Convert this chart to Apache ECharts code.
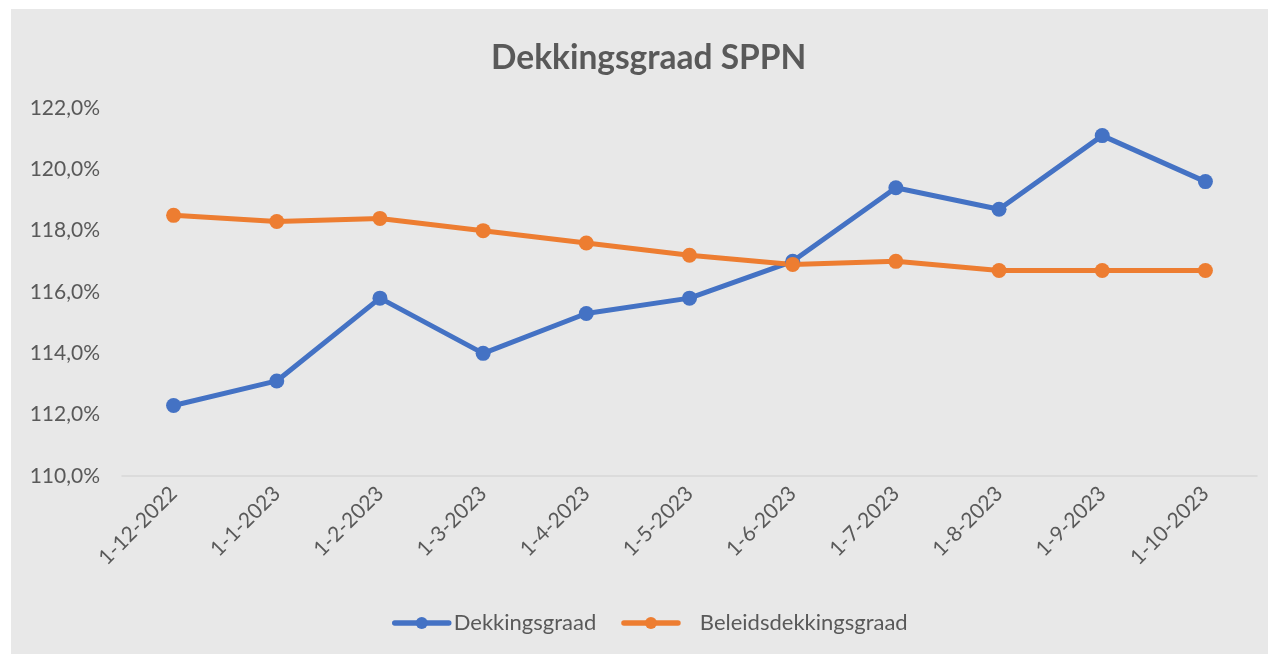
<!DOCTYPE html>
<html>
<head>
<meta charset="utf-8">
<script src="https://cdn.jsdelivr.net/npm/echarts@6/dist/echarts.min.js"></script>
<style>html,body{margin:0;padding:0;background:#fff;}#c{width:1268px;height:654px;}</style>
</head>
<body>
<div id="c"></div>
<script>
const categories = ['1-12-2022','1-1-2023','1-2-2023','1-3-2023','1-4-2023','1-5-2023','1-6-2023','1-7-2023','1-8-2023','1-9-2023','1-10-2023'];
const dekkingsgraad = [112.3, 113.1, 115.8, 114.0, 115.3, 115.8, 117.0, 119.4, 118.7, 121.1, 119.6];
const beleidsdekkingsgraad = [118.5, 118.3, 118.4, 118.0, 117.6, 117.2, 116.9, 117.0, 116.7, 116.7, 116.7];
const seriesNames = ['Dekkingsgraad', 'Beleidsdekkingsgraad'];
const titleText = 'Dekkingsgraad SPPN';

const font = 'Lato, "Open Sans", sans-serif';
const chart = echarts.init(document.getElementById('c'));
chart.setOption({
  backgroundColor: '#ffffff',
  graphic: [{type:'rect', shape:{x:11, y:9, width:1257, height:645}, style:{fill:'#e8e8e8'}, z:-10, silent:true}],
  title: {text: titleText, left: 486, top: 36, textStyle:{fontFamily: font, fontSize: 33.5, fontWeight:'bold', color:'#595959'}},
  legend: {bottom: 15, left: 387, itemWidth: 54, itemHeight: 15, itemGap: 25,
    lineStyle:{width:5.5, cap:'round'},
    textStyle:{fontFamily: font, fontSize: 22, color:'#595959'}, data: seriesNames,
    formatter: n => n === seriesNames[1] ? '   ' + n : n},
  grid: {left: 122, right: 11, top: 108, bottom: 178, containLabel: false},
  xAxis: {type:'category', data: categories, boundaryGap: true,
    axisLine:{lineStyle:{color:'#d6d6d6', width:1.5}}, axisTick:{show:false},
    axisLabel:{rotate:45, fontFamily: font, fontSize: 21, color:'#595959', margin: 14}},
  yAxis: {type:'value', min:110, max:122, interval:2,
    axisLine:{show:false}, axisTick:{show:false}, splitLine:{show:false},
    axisLabel:{fontFamily: font, fontSize: 21, color:'#595959', margin: 22,
      formatter: v => v.toFixed(1).replace('.', ',') + '%'}},
  series: [
    {name: seriesNames[0], type:'line', data: dekkingsgraad, symbol:'circle', symbolSize: 15,
      lineStyle:{width:5, color:'#4472C4', cap:'round'}, itemStyle:{color:'#4472C4'}},
    {name: seriesNames[1], type:'line', data: beleidsdekkingsgraad, symbol:'circle', symbolSize: 15,
      lineStyle:{width:5, color:'#ED7D31', cap:'round'}, itemStyle:{color:'#ED7D31'}}
  ]
});
</script>
</body>
</html>
